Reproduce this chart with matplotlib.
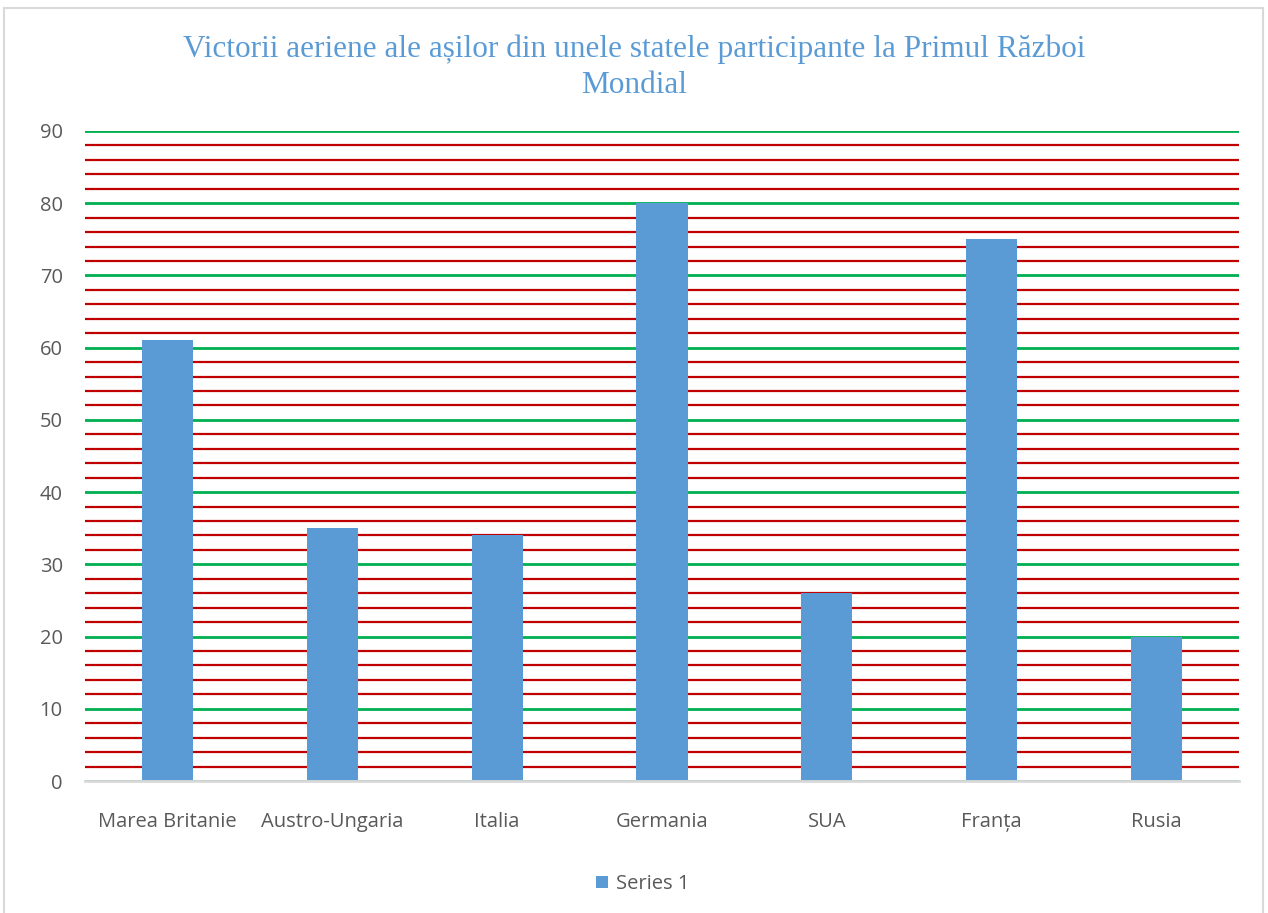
import matplotlib.pyplot as plt
import numpy as np
from matplotlib.patches import Rectangle

plt.rcParams['font.family'] = ['Open Sans', 'DejaVu Sans']

# Datele
tari = ['Marea Britanie', 'Austro-Ungaria', 'Italia', 'Germania', 'SUA', 'Franța', 'Rusia']
victorii = [61, 35, 34, 80, 26, 75, 20]

fig = plt.figure(figsize=(12.68, 9.13), dpi=100)
ax = fig.add_axes([85 / 1268, 1 - 781 / 913, (1239 - 85) / 1268, (781 - 131) / 913])

x = np.arange(len(tari))
ax.bar(x, victorii, width=0.31, color='#5B9BD5', zorder=3, label='Series 1')

ax.set_xlim(-0.5, len(tari) - 0.5)
ax.set_ylim(0, 90)
ax.set_yticks(np.arange(0, 91, 10))
ax.set_yticks(np.arange(0, 91, 2), minor=True)

# grila: verde la fiecare 10, rosu la fiecare 2
ax.grid(axis='y', which='major', color='#00B050', linewidth=2, zorder=1)
ax.grid(axis='y', which='minor', color='#C00000', linewidth=1.6, zorder=1)
ax.grid(axis='x', visible=False)

for s in ['top', 'right', 'left']:
    ax.spines[s].set_visible(False)
ax.spines['bottom'].set_color('#D9D9D9')
ax.spines['bottom'].set_linewidth(2)
ax.spines['bottom'].set_zorder(4)

ax.set_xticks(x)
ax.set_xticklabels(tari)
ax.tick_params(axis='both', which='both', length=0, labelsize=14.5, colors='#595959')
ax.tick_params(axis='x', pad=22)
ax.tick_params(axis='y', pad=16)

fig.text(0.5, 1 - 67 / 913,
         'Victorii aeriene ale așilor din unele statele participante la Primul Război\nMondial',
         ha='center', va='center', fontsize=22.5, color='#5B9BD5',
         family='Liberation Serif', linespacing=1.3)

ax.legend(loc='center', bbox_to_anchor=(643 / 1268, 1 - 884 / 913), bbox_transform=fig.transFigure,
          frameon=False, fontsize=14.5, labelcolor='#595959',
          handlelength=0.6, handleheight=0.6, handletextpad=0.4)

# chenar
fig.patches.append(Rectangle((4 / 1268, -0.01), 1259 / 1268, 1 - 8 / 913 + 0.01,
                             transform=fig.transFigure, fill=False,
                             edgecolor='#D9D9D9', linewidth=1.5))

plt.savefig('out.png', dpi=100)
